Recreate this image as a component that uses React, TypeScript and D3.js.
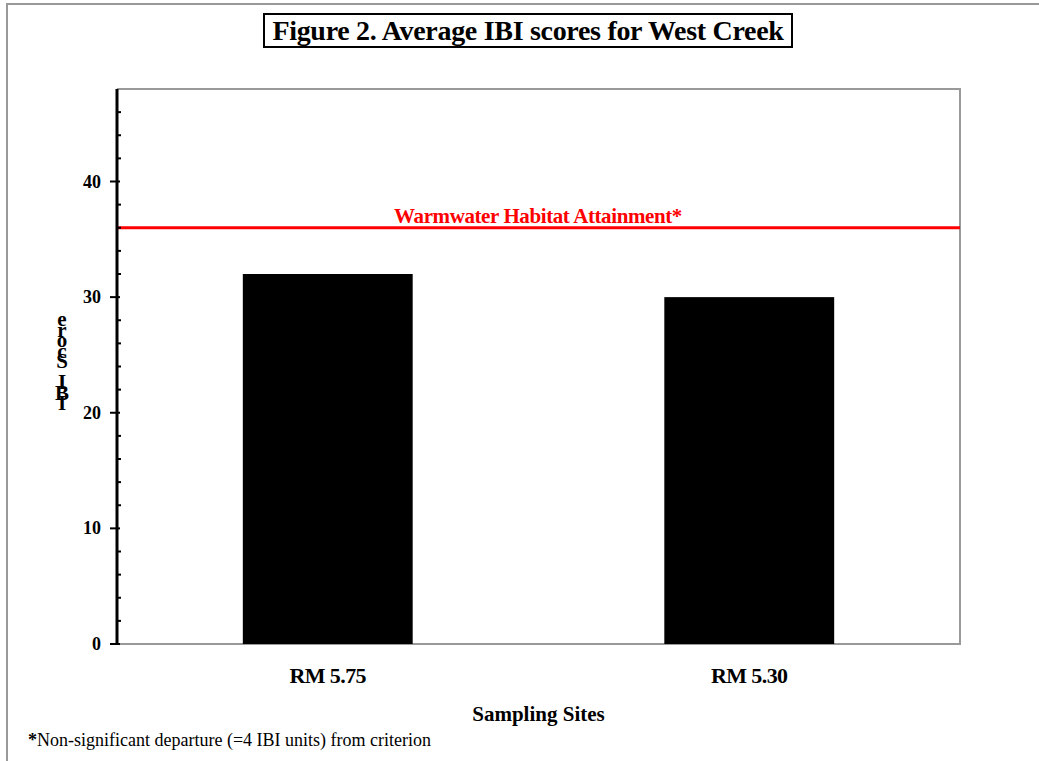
import React, { useEffect, useRef } from 'react';
import * as d3 from 'd3';

const sites = ['RM 5.75', 'RM 5.30'];
const ibiScores = [32, 30];
const criterion = 36;
const yTicks = [0, 10, 20, 30, 40];
const yMinorTicks = [2, 4, 6, 8, 12, 14, 16, 18, 22, 24, 26, 28, 32, 34, 36, 38, 42, 44, 46];

const App: React.FC = () => {
  const svgRef = useRef<SVGSVGElement>(null);

  useEffect(() => {
    if (!svgRef.current) return;
    const svg = d3.select(svgRef.current);
    svg.selectAll('*').remove();

    const width = 1039;
    const height = 761;
    const margin = { top: 89, right: 79, bottom: 117, left: 117 };
    const innerWidth = width - margin.left - margin.right;
    const innerHeight = height - margin.top - margin.bottom;
    const font = '"Liberation Serif", "Times New Roman", serif';

    svg.attr('width', width).attr('height', height).style('font-family', font);

    // Outer frame
    svg.append('rect')
      .attr('x', 7).attr('y', 4)
      .attr('width', 1040).attr('height', 800)
      .attr('fill', 'white')
      .attr('stroke', '#999').attr('stroke-width', 2);

    // Title box
    svg.append('rect')
      .attr('x', 264).attr('y', 14)
      .attr('width', 528).attr('height', 33)
      .attr('fill', 'white')
      .attr('stroke', 'black').attr('stroke-width', 2);
    svg.append('text')
      .attr('x', 528).attr('y', 40)
      .attr('text-anchor', 'middle')
      .style('font-size', '28px').style('font-weight', 'bold')
      .style('letter-spacing', '-0.3px')
      .text('Figure 2. Average IBI scores for West Creek');

    const g = svg.append('g')
      .attr('transform', `translate(${margin.left},${margin.top})`);

    const x = d3.scaleBand<string>()
      .domain(sites)
      .range([0, innerWidth])
      .paddingInner(0.597)
      .paddingOuter(0.2985);

    const y = d3.scaleLinear().domain([0, 48]).range([innerHeight, 0]);

    // Plot border (gray top/right/bottom)
    g.append('path')
      .attr('d', `M0,0H${innerWidth}V${innerHeight}H0`)
      .attr('fill', 'none')
      .attr('stroke', '#999').attr('stroke-width', 2);

    // Bars
    g.selectAll('rect.bar')
      .data(ibiScores)
      .enter()
      .append('rect')
      .attr('class', 'bar')
      .attr('x', (_, i) => x(sites[i]) as number)
      .attr('width', x.bandwidth())
      .attr('y', d => y(d))
      .attr('height', d => innerHeight - y(d))
      .attr('fill', 'black');

    // Criterion line
    g.append('line')
      .attr('x1', 0).attr('x2', innerWidth)
      .attr('y1', y(criterion)).attr('y2', y(criterion))
      .attr('stroke', '#ff0000').attr('stroke-width', 3);
    g.append('text')
      .attr('x', 421).attr('y', y(criterion) - 5)
      .attr('text-anchor', 'middle')
      .attr('fill', '#ff0000')
      .style('font-size', '21px').style('font-weight', 'bold')
      .style('letter-spacing', '-0.4px')
      .text('Warmwater Habitat Attainment*');

    // Y axis
    const yAxis = g.append('g');
    yAxis.append('line')
      .attr('x1', 0).attr('x2', 0).attr('y1', 0).attr('y2', innerHeight)
      .attr('stroke', 'black').attr('stroke-width', 3);
    yAxis.selectAll('line.major')
      .data(yTicks)
      .enter()
      .append('line')
      .attr('class', 'major')
      .attr('x1', -7).attr('x2', 3)
      .attr('y1', d => y(d)).attr('y2', d => y(d))
      .attr('stroke', 'black').attr('stroke-width', 2);
    yAxis.selectAll('line.minor')
      .data(yMinorTicks)
      .enter()
      .append('line')
      .attr('class', 'minor')
      .attr('x1', 0).attr('x2', 4)
      .attr('y1', d => y(d)).attr('y2', d => y(d))
      .attr('stroke', 'black').attr('stroke-width', 2);
    yAxis.selectAll('text')
      .data(yTicks)
      .enter()
      .append('text')
      .attr('x', -16)
      .attr('y', d => y(d) + 6)
      .attr('text-anchor', 'end')
      .style('font-size', '18px').style('font-weight', 'bold')
      .text(d => String(d));

    // Y axis title: letters stacked bottom to top, in one text element
    const yTitle = 'IBI Score'.split('');
    const yTitleText = svg.append('text')
      .attr('text-anchor', 'middle')
      .style('font-size', '21px').style('font-weight', 'bold');
    yTitleText.selectAll('tspan')
      .data(yTitle)
      .enter()
      .append('tspan')
      .attr('x', 62)
      .attr('y', (_, i) => 410 - i * 10.5)
      .text(d => d);

    // X category labels
    g.selectAll('text.cat')
      .data(sites)
      .enter()
      .append('text')
      .attr('class', 'cat')
      .attr('x', d => (x(d) as number) + x.bandwidth() / 2)
      .attr('y', innerHeight + 39)
      .attr('text-anchor', 'middle')
      .style('font-size', '22px').style('font-weight', 'bold')
      .style('letter-spacing', '-0.6px')
      .text(d => d);

    // X axis title
    g.append('text')
      .attr('x', innerWidth / 2)
      .attr('y', innerHeight + 77)
      .attr('text-anchor', 'middle')
      .style('font-size', '21px').style('font-weight', 'bold')
      .text('Sampling Sites');

    // Footnote
    const note = svg.append('text')
      .attr('x', 28).attr('y', 746)
      .style('font-size', '18px');
    note.append('tspan').style('font-weight', 'bold').text('*');
    note.append('tspan').text('Non-significant departure (=4 IBI units) from criterion');
  }, []);

  return (
    <div style={{ position: 'absolute', top: 0, left: 0 }}>
      <svg ref={svgRef} style={{ display: 'block' }} />
    </div>
  );
};

export default App;
